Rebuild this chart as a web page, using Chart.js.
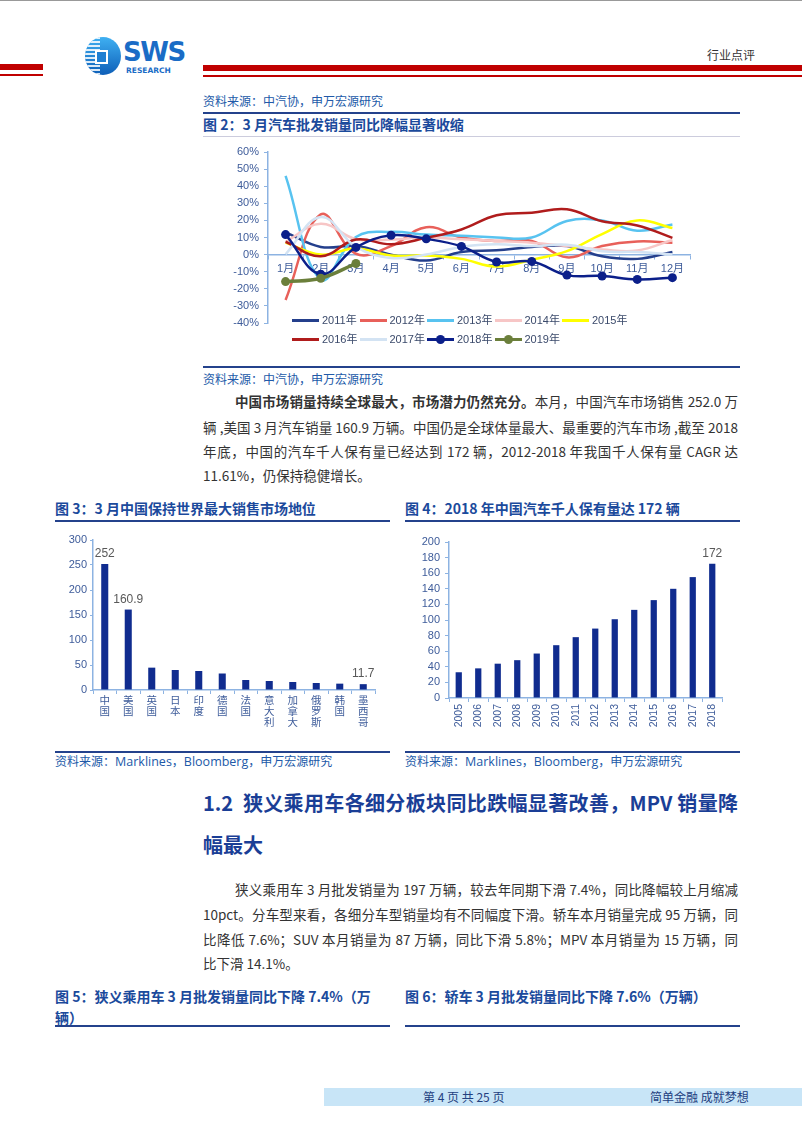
<!DOCTYPE html>
<html>
<head>
<meta charset="utf-8">
<script src="https://cdn.jsdelivr.net/npm/chart.js@4/dist/chart.umd.min.js"></script>
<style>
  body { margin: 0; background: #fff; }
  #page { position: relative; width: 802px; height: 1133px; overflow: hidden; background: #fff;
          font-family: "Noto Sans CJK SC", "Noto Sans", sans-serif; color: #333; }
  .abs { position: absolute; white-space: nowrap; }
  .src { font-size: 12px; color: #2159a8; line-height: 16px; }
  .src em { font-style: normal; font-family: "Open Sans", sans-serif; font-size: 12.5px; }
  .ttl { font-size: 14px; font-weight: bold; color: #1b4a9c; line-height: 18px; }
  .rule { position: absolute; height: 2px; background: #24428c; }
  .txt { font-size: 13.5px; line-height: 20px; color: #333; }
  .jst { text-align: justify; text-align-last: justify; white-space: normal; }
  .h2 { font-size: 20px; font-weight: bold; color: #1a3e96; line-height: 26px; }
  .leg { position: absolute; white-space: nowrap; font: 11px "Liberation Sans", "Noto Sans CJK SC", sans-serif; color: #3b4a6b; line-height: 14px; }
  .leg i { position: absolute; left: 0; top: 6px; width: 27px; height: 3px; }
  .leg b { position: absolute; left: 9px; top: 3px; width: 9px; height: 9px; border-radius: 50%; }
  .leg span { position: absolute; left: 30px; top: 0; }
  canvas { position: absolute; }
</style>
</head>
<body>
<div id="page">
  <!-- header -->
  <div style="position:absolute;left:0;top:0;width:802px;height:1px;background:#999"></div>
  <div style="position:absolute;left:0;top:64px;width:43px;height:6px;background:#c00000"></div>
  <div style="position:absolute;left:0;top:74px;width:43px;height:1.5px;background:#c00000"></div>
  <div style="position:absolute;left:203px;top:65px;width:599px;height:6px;background:#c00000"></div>
  <div style="position:absolute;left:203px;top:75px;width:599px;height:1.5px;background:#c00000"></div>
  <div style="position:absolute;left:85px;top:37px;width:36px;height:38px;border-radius:50%;
              background:linear-gradient(180deg,#3fb0f2,#0e5fb8);overflow:hidden">
    <div style="position:absolute;left:0;top:0;width:15px;height:38px;
                background:repeating-linear-gradient(180deg,#fff 0 2px,transparent 2px 4px);opacity:.85"></div>
    <div style="position:absolute;left:10px;top:13px;width:9px;height:10px;border:2px solid #fff;background:#1f7fd2"></div>
  </div>
  <div class="abs" style="left:123px;top:37px;font:bold 26px 'DejaVu Sans',sans-serif;color:#1a6cc6;letter-spacing:-1.5px">SWS</div>
  <div class="abs" style="left:126px;top:66px;font:bold 7.5px 'DejaVu Sans',sans-serif;color:#1a6cc6">RESEARCH</div>
  <div class="abs" style="left:707px;top:46px;font-size:12px;color:#333">行业点评</div>

  <!-- fig 2 -->
  <div class="abs src" style="left:203px;top:93px">资料来源：中汽协，申万宏源研究</div>
  <div class="rule" style="left:203px;top:112px;width:537px"></div>
  <div class="abs ttl" style="left:203px;top:115px">图 2：3 月汽车批发销量同比降幅显著收缩</div>
  <div class="rule" style="left:203px;top:136px;width:537px;height:1px;background:#ccd"></div>
  <canvas id="c2" width="537" height="200" style="left:203px;top:140px"></canvas>
  <div id="legend2"></div>
  <div class="rule" style="left:203px;top:366px;width:537px"></div>
  <div class="abs src" style="left:203px;top:371px">资料来源：中汽协，申万宏源研究</div>

  <div class="abs txt jst" style="left:235px;top:391px;width:503px"><b>中国市场销量持续全球最大，市场潜力仍然充分。</b>本月，中国汽车市场销售 252.0 万</div>
  <div class="abs txt jst" style="left:203px;top:417px;width:535px">辆 ,美国 3 月汽车销量 160.9 万辆。中国仍是全球体量最大、最重要的汽车市场 ,截至 2018</div>
  <div class="abs txt jst" style="left:203px;top:441px;width:535px">年底，中国的汽车千人保有量已经达到 172 辆，2012-2018 年我国千人保有量 CAGR 达</div>
  <div class="abs txt" style="left:203px;top:465px">11.61%，仍保持稳健增长。</div>

  <!-- fig 3 / 4 -->
  <div class="abs ttl" style="left:55px;top:499px">图 3：3 月中国保持世界最大销售市场地位</div>
  <div class="rule" style="left:55px;top:520px;width:335px"></div>
  <div class="abs ttl" style="left:405px;top:499px">图 4：2018 年中国汽车千人保有量达 172 辆</div>
  <div class="rule" style="left:405px;top:520px;width:335px"></div>
  <canvas id="c3" width="335" height="215" style="left:55px;top:530px"></canvas>
  <canvas id="c4" width="335" height="215" style="left:405px;top:530px"></canvas>
  <div class="rule" style="left:55px;top:751px;width:335px"></div>
  <div class="rule" style="left:405px;top:751px;width:335px"></div>
  <div class="abs src" style="left:55px;top:753px">资料来源：<em>Marklines</em>，<em>Bloomberg</em>，申万宏源研究</div>
  <div class="abs src" style="left:405px;top:753px">资料来源：<em>Marklines</em>，<em>Bloomberg</em>，申万宏源研究</div>

  <!-- section 1.2 -->
  <div class="abs h2 jst" style="left:203px;top:790px;width:535px">1.2&nbsp; 狭义乘用车各细分板块同比跌幅显著改善，MPV 销量降</div>
  <div class="abs h2" style="left:203px;top:832px">幅最大</div>

  <div class="abs txt jst" style="left:235px;top:879px;width:503px">狭义乘用车 3 月批发销量为 197 万辆，较去年同期下滑 7.4%，同比降幅较上月缩减</div>
  <div class="abs txt jst" style="left:203px;top:904px;width:535px">10pct。分车型来看，各细分车型销量均有不同幅度下滑。轿车本月销量完成 95 万辆，同</div>
  <div class="abs txt jst" style="left:203px;top:929px;width:535px">比降低 7.6%；SUV 本月销量为 87 万辆，同比下滑 5.8%；MPV 本月销量为 15 万辆，同</div>
  <div class="abs txt" style="left:203px;top:953px">比下滑 14.1%。</div>

  <div class="abs ttl" style="left:55px;top:987px">图 5：狭义乘用车 3 月批发销量同比下降 7.4%（万</div>
  <div class="abs ttl" style="left:55px;top:1008px">辆）</div>
  <div class="abs ttl" style="left:405px;top:987px">图 6：轿车 3 月批发销量同比下降 7.6%（万辆）</div>
  <div class="rule" style="left:55px;top:1025px;width:335px"></div>
  <div class="rule" style="left:405px;top:1025px;width:335px"></div>

  <!-- footer -->
  <div style="position:absolute;left:324px;top:1088px;width:478px;height:18px;background:#c8e5f7"></div>
  <div class="abs" style="left:423px;top:1088px;font-size:12px;line-height:18px;color:#23407f">第 4 页 共 25 页</div>
  <div class="abs" style="left:650px;top:1088px;font-size:12px;line-height:18px;color:#23407f">简单金融 成就梦想</div>
</div>

<script>
// 图2：月度同比
const months = ['1月', '2月', '3月', '4月', '5月', '6月', '7月', '8月', '9月', '10月', '11月', '12月'];
const yoyNames = ['2011年', '2012年', '2013年', '2014年', '2015年', '2016年', '2017年', '2018年', '2019年'];
const yoy2011 = [13, 4.5, 5, 0, -3.5, 1.5, 2.5, 4.5, 5, -1, -2.5, 1.5];
const yoy2012 = [-26.5, 23.5, 0.5, 5, 16, 10, 8, 8, -1.6, 5, 7.7, 7];
const yoy2013 = [46, -14.5, 10.3, 13.3, 11.7, 11, 10, 10, 19.6, 20, 14, 17.6];
const yoy2014 = [7.5, 18, 9, 8.8, 10, 9, 8, 7, 5, 3, 2.4, 8.5];
const yoy2015 = [7, 0, 3.5, -0.5, -0.5, -2.5, -7, -3, 2, 12, 20, 15.5];
const yoy2016 = [7.5, -1, 8.8, 6, 9.8, 14.7, 23, 24.5, 26.5, 19.5, 17, 9.8];
const yoy2017 = [0.2, 22, 4.5, -2, 0, 4.5, 6, 5, 5.8, 2, 1.5, 0.1];
const yoy2018 = [11.7, -11.5, 4.2, 11.3, 9.2, 4.8, -4.3, -4, -12, -12.5, -14.5, -13.5];
const yoy2019 = [-15.8, -13.8, -5.2];
const yoyColors = ['#243f8c', '#e8605a', '#58c3f0', '#f7c6c6', '#ffff00', '#b01c1c', '#d3e3f3', '#0b1f8a', '#6b7f3b'];

// 图3：3月各国销量（万辆）
const countries = ['中国', '美国', '英国', '日本', '印度', '德国', '法国', '意大利', '加拿大', '俄罗斯', '韩国', '墨西哥'];
const salesMar = [252, 160.9, 44.7, 40, 38, 33, 20, 18, 16, 14, 12.7, 11.7];
const salesLabelIdx = [0, 1, 11];

// 图4：千人保有量（辆）
const years = ['2005', '2006', '2007', '2008', '2009', '2010', '2011', '2012', '2013', '2014', '2015', '2016', '2017', '2018'];
const perThousand = [33, 38, 44, 48.5, 57, 67.7, 78, 89, 101, 113, 125.5, 140, 155, 172];
const perThousandLabelIdx = [13];

Chart.defaults.font.family = '"Liberation Sans", "Noto Sans CJK SC", Arial, sans-serif';
Chart.defaults.animation = false;

const axisBlue = '#8db3e2';
const tickBlue = '#3e5c9a';

// 柱顶数值
const valueLabels = {
  id: 'valueLabels',
  afterDatasetsDraw(chart, args, opts) {
    const ctx = chart.ctx;
    const meta = chart.getDatasetMeta(0);
    ctx.save();
    ctx.font = '12px "Liberation Sans", Arial, sans-serif';
    ctx.fillStyle = '#595959';
    ctx.textAlign = 'center';
    ctx.textBaseline = 'bottom';
    (opts.indices || []).forEach(i => {
      const bar = meta.data[i];
      ctx.fillText(String(chart.data.datasets[0].data[i]), bar.x, bar.y - 4);
    });
    ctx.restore();
  }
};

// 图2
const series = [yoy2011, yoy2012, yoy2013, yoy2014, yoy2015, yoy2016, yoy2017, yoy2018, yoy2019];
const datasets2 = series.map((d, i) => {
  const dotted = i >= 7;
  return {
    label: yoyNames[i],
    data: d,
    borderColor: yoyColors[i],
    backgroundColor: yoyColors[i],
    borderWidth: i == 8 ? 3.5 : 2.5,
    pointRadius: dotted ? 4.5 : 0,
    pointBorderWidth: 0,
    tension: 0.4,
    order: dotted ? 9 - i : 10 - i + 2
  };
});

new Chart(document.getElementById('c2'), {
  type: 'line',
  data: { labels: months, datasets: datasets2 },
  options: {
    responsive: false,
    layout: { padding: { top: 12, right: 50, bottom: 17, left: 0 } },
    plugins: { legend: { display: false }, tooltip: { enabled: false } },
    scales: {
      x: {
        position: { y: 0 },
        offset: true,
        grid: { display: true, drawOnChartArea: false, offset: true, tickLength: 4, color: axisBlue },
        border: { color: axisBlue, width: 1.5 },
        ticks: { color: tickBlue, font: { size: 11 }, padding: 4, autoSkip: false, maxRotation: 0 }
      },
      y: {
        min: -40, max: 60,
        afterFit: s => { s.width = 65; },
        grid: { display: true, drawOnChartArea: false, tickLength: 4, color: axisBlue },
        border: { color: axisBlue, width: 1.5 },
        ticks: { stepSize: 10, autoSkip: false, color: tickBlue, font: { size: 11 }, padding: 5, callback: v => v + '%' }
      }
    }
  }
});

// 图2 图例
const leg = document.getElementById('legend2');
yoyNames.forEach((name, i) => {
  const row = i < 5 ? 0 : 1;
  const col = i % 5;
  const d = document.createElement('div');
  d.className = 'leg';
  d.style.left = (292 + col * 67.5) + 'px';
  d.style.top = (row ? 332 : 313) + 'px';
  d.innerHTML = '<i style="background:' + yoyColors[i] + '"></i>' +
    (i >= 7 ? '<b style="background:' + yoyColors[i] + '"></b>' : '') +
    '<span>' + name + '</span>';
  leg.appendChild(d);
});

// 图3
new Chart(document.getElementById('c3'), {
  type: 'bar',
  data: {
    labels: countries.map(c => c.split('')),
    datasets: [{ data: salesMar, backgroundColor: '#102c8f', barPercentage: 0.3, categoryPercentage: 1 }]
  },
  options: {
    responsive: false,
    layout: { padding: { top: 10, right: 15, bottom: 0, left: 0 } },
    plugins: { legend: { display: false }, tooltip: { enabled: false }, valueLabels: { indices: salesLabelIdx } },
    scales: {
      x: {
        afterFit: s => { s.height = 55; },
        grid: { display: true, drawOnChartArea: false, offset: true, tickLength: 4, color: axisBlue },
        border: { color: axisBlue, width: 1.5 },
        ticks: { color: tickBlue, font: { size: 10.5, lineHeight: 1.05 }, padding: 2, autoSkip: false, maxRotation: 0 }
      },
      y: {
        min: 0, max: 300,
        afterFit: s => { s.width = 38; },
        grid: { display: true, drawOnChartArea: false, tickLength: 3, color: axisBlue },
        border: { color: axisBlue, width: 1.5 },
        ticks: { stepSize: 50, autoSkip: false, color: tickBlue, font: { size: 11 }, padding: 3 }
      }
    }
  },
  plugins: [valueLabels]
});

// 图4
new Chart(document.getElementById('c4'), {
  type: 'bar',
  data: {
    labels: years,
    datasets: [{ data: perThousand, backgroundColor: '#102c8f', barPercentage: 0.32, categoryPercentage: 1 }]
  },
  options: {
    responsive: false,
    layout: { padding: { top: 12, right: 18, bottom: 0, left: 0 } },
    plugins: { legend: { display: false }, tooltip: { enabled: false }, valueLabels: { indices: perThousandLabelIdx } },
    scales: {
      x: {
        afterFit: s => { s.height = 47; },
        grid: { display: true, drawOnChartArea: false, offset: true, tickLength: 4, color: axisBlue },
        border: { color: axisBlue, width: 1.5 },
        ticks: { color: tickBlue, font: { size: 10.5 }, padding: 2, autoSkip: false, minRotation: 90, maxRotation: 90 }
      },
      y: {
        min: 0, max: 200,
        afterFit: s => { s.width = 44; },
        grid: { display: true, drawOnChartArea: false, tickLength: 4, color: axisBlue },
        border: { color: axisBlue, width: 1.5 },
        ticks: { stepSize: 20, autoSkip: false, color: tickBlue, font: { size: 11 }, padding: 5 }
      }
    }
  },
  plugins: [valueLabels]
});
</script>
</body>
</html>
